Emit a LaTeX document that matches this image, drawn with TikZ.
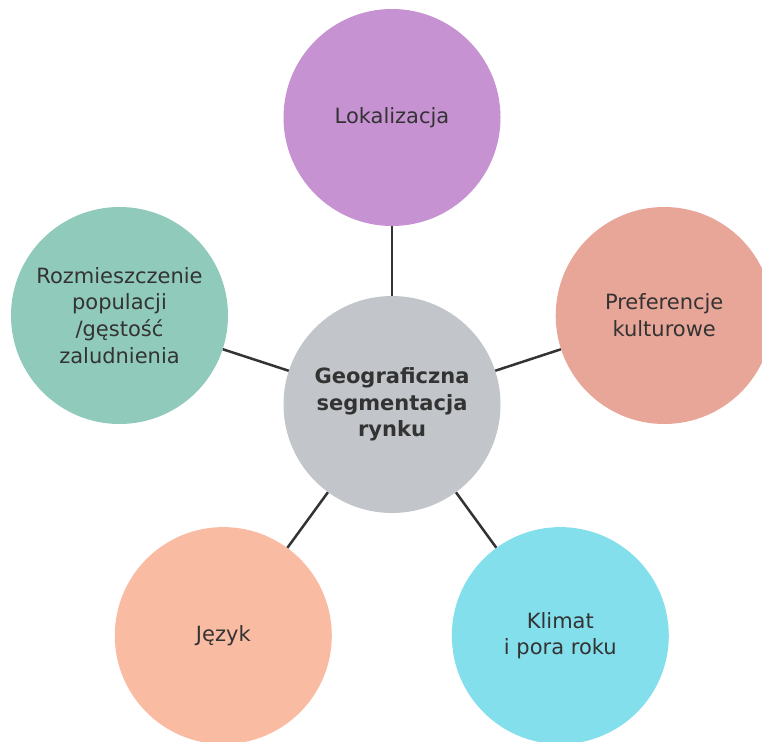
\documentclass[tikz,border=0pt]{standalone}
\usepackage{fontspec}
\setmainfont{DejaVu Sans}
\definecolor{txt}{HTML}{333333}
\definecolor{cPurple}{HTML}{C692D2}
\definecolor{cGreen}{HTML}{90CABB}
\definecolor{cSalmon}{HTML}{E8A698}
\definecolor{cGray}{HTML}{C2C6CA}
\definecolor{cPeach}{HTML}{F9BBA1}
\definecolor{cCyan}{HTML}{84DFEC}
\tikzset{
  bubble/.style={circle, minimum size=217pt, inner sep=0pt, text=txt, align=center,
    font=\fontsize{21pt}{26.7pt}\selectfont},
  link/.style={draw=txt, line width=2.5pt}
}
\begin{document}
\begin{tikzpicture}[x=1pt,y=-1pt]
\useasboundingbox (0,0) rectangle (762,741);
\node[bubble, fill=cGray, font=\fontsize{21pt}{26.7pt}\selectfont\bfseries] (c) at (392,404.5) {Geograficzna\\segmentacja\\rynku};
\node[bubble, fill=cPurple] (t) at (392,117.5) {Lokalizacja};
\node[bubble, fill=cGreen] (l) at (119.5,315.5) {Rozmieszczenie\\populacji\\/gęstość\\zaludnienia};
\node[bubble, fill=cSalmon] (r) at (664.2,315.5) {Preferencje\\kulturowe};
\node[bubble, fill=cPeach] (bl) at (223.3,635.6) {Język};
\node[bubble, fill=cCyan] (br) at (560.3,635.6) {Klimat\\i pora roku};
\draw[link] (c) -- (t);
\draw[link] (c) -- (l);
\draw[link] (c) -- (r);
\draw[link] (c) -- (bl);
\draw[link] (c) -- (br);
\end{tikzpicture}
\end{document}
